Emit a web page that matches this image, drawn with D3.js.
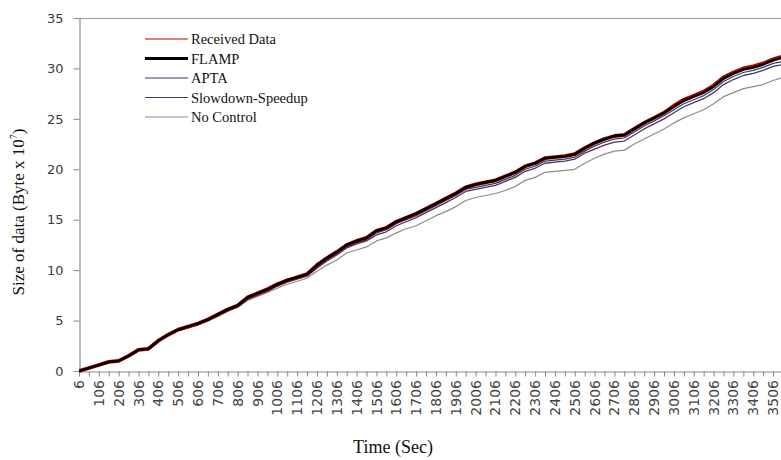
<!DOCTYPE html>
<html><head><meta charset="utf-8">
<script src="https://cdn.jsdelivr.net/npm/d3@7"></script>
<style>body{margin:0;background:#fff}</style>
</head><body><svg id="c" width="781" height="460"></svg>
<script>
// time in seconds (category every 50 s)
const times = d3.range(6, 3557, 50);
const xTickLabels = [6,106,206,306,406,506,606,706,806,906,1006,1106,1206,1306,1406,1506,1606,1706,1806,1906,2006,2106,2206,2306,2406,2506,2606,2706,2806,2906,3006,3106,3206,3306,3406,3506];
const yTicks = [0,5,10,15,20,25,30,35];
const seriesNames = ["Received Data","FLAMP","APTA","Slowdown-Speedup","No Control"];

const receivedData = [0.0,0.3,0.6,0.9,1.0,1.5,2.1,2.2,3.0,3.6,4.1,4.4,4.7,5.1,5.6,6.1,6.5,7.3,7.7,8.1,8.6,9.0,9.3,9.6,10.5,11.2,11.8,12.5,12.9,13.2,13.9,14.2,14.8,15.2,15.6,16.1,16.6,17.1,17.6,18.2,18.5,18.7,18.9,19.3,19.7,20.3,20.6,21.1,21.2,21.3,21.5,22.1,22.6,23.0,23.3,23.4,24.0,24.6,25.1,25.6,26.3,26.9,27.3,27.7,28.3,29.1,29.6,30.0,30.2,30.5,30.9,31.2];
const flamp = [0.0,0.3,0.6,0.9,1.0,1.5,2.1,2.2,3.0,3.6,4.1,4.4,4.7,5.1,5.6,6.1,6.5,7.3,7.7,8.1,8.6,9.0,9.3,9.6,10.5,11.2,11.8,12.5,12.9,13.2,13.9,14.2,14.8,15.2,15.6,16.1,16.6,17.1,17.6,18.2,18.5,18.7,18.9,19.3,19.7,20.3,20.6,21.1,21.2,21.3,21.5,22.1,22.6,23.0,23.3,23.4,24.0,24.6,25.1,25.6,26.2,26.8,27.2,27.6,28.2,29.0,29.5,29.9,30.1,30.4,30.8,31.1];
const apta = [0.0,0.3,0.6,0.9,1.0,1.5,2.1,2.2,3.0,3.6,4.1,4.4,4.6,5.0,5.5,6.0,6.4,7.2,7.6,8.0,8.5,8.9,9.2,9.5,10.3,11.0,11.6,12.3,12.7,13.0,13.7,14.0,14.6,15.0,15.4,15.9,16.4,16.9,17.4,18.0,18.2,18.4,18.6,19.0,19.4,20.0,20.3,20.8,20.9,21.0,21.2,21.8,22.3,22.7,23.0,23.1,23.7,24.3,24.8,25.3,25.9,26.5,26.9,27.3,27.9,28.7,29.2,29.6,29.8,30.1,30.5,30.7];
const slowdownSpeedup = [0.0,0.3,0.6,0.9,1.0,1.5,2.1,2.2,3.0,3.6,4.0,4.3,4.6,5.0,5.5,6.0,6.4,7.1,7.5,7.9,8.4,8.8,9.1,9.4,10.2,10.9,11.5,12.2,12.6,12.9,13.5,13.8,14.4,14.8,15.2,15.7,16.2,16.7,17.2,17.8,18.0,18.2,18.4,18.8,19.2,19.8,20.1,20.6,20.7,20.8,21.0,21.6,22.0,22.4,22.7,22.8,23.4,24.0,24.5,25.0,25.6,26.2,26.6,27.0,27.6,28.4,28.9,29.3,29.5,29.8,30.2,30.4];
const noControl = [0.0,0.3,0.6,0.9,1.0,1.5,2.1,2.2,3.0,3.6,4.0,4.3,4.6,5.0,5.4,5.9,6.3,7.0,7.4,7.8,8.2,8.6,8.9,9.2,9.9,10.5,11.0,11.7,12.0,12.3,12.9,13.2,13.7,14.1,14.4,14.9,15.4,15.8,16.3,16.9,17.2,17.4,17.6,17.9,18.3,18.9,19.2,19.7,19.8,19.9,20.0,20.6,21.1,21.5,21.8,21.9,22.5,23.0,23.5,24.0,24.6,25.1,25.5,25.9,26.5,27.2,27.6,28.0,28.2,28.4,28.8,29.1];

const series = [
  {name: seriesNames[4], values: noControl, color: "#8c8c8c", width: 1.2},
  {name: seriesNames[2], values: apta, color: "#2e3f66", width: 1.2},
  {name: seriesNames[3], values: slowdownSpeedup, color: "#4a3466", width: 1.3},
  {name: seriesNames[0], values: receivedData, color: "#c00000", width: 3.8},
  {name: seriesNames[1], values: flamp, color: "#000000", width: 2.6}
];

const svg = d3.select("#c");
const L = 79, T = 18, B = 371, R = 781;
const x = d3.scaleLinear().domain([6, 3546]).range([L, R]);
const y = d3.scaleLinear().domain([0, 35]).range([B, T]);

svg.append("defs").append("clipPath").attr("id","clip")
  .append("rect").attr("x", L).attr("y", T - 5).attr("width", R - L).attr("height", B - T + 10);

// top border
svg.append("line").attr("x1", L).attr("x2", R).attr("y1", T + 0.5).attr("y2", T + 0.5)
  .attr("stroke", "#9a9a9a").attr("stroke-width", 1.2);

// y axis
const yAxis = d3.axisLeft(y).tickValues(yTicks).tickSize(6).tickSizeOuter(0).tickPadding(10);
const gy = svg.append("g").attr("transform", `translate(${L + 0.5},0)`).call(yAxis);
gy.select(".domain").attr("stroke", "#8a8a8a").attr("stroke-width", 1.2);
gy.selectAll(".tick line").attr("stroke", "#8a8a8a");
gy.selectAll("text").attr("font-family", "DejaVu Sans").attr("font-size", 13).attr("fill", "#3a3a3a");

// x axis
const xAxis = d3.axisBottom(x).tickValues(times).tickSize(5).tickSizeOuter(0).tickFormat("");
const gx = svg.append("g").attr("transform", `translate(0,${B + 0.5})`).call(xAxis);
gx.select(".domain").attr("stroke", "#8a8a8a").attr("stroke-width", 1.2);
gx.selectAll(".tick line").attr("stroke", "#8a8a8a");

svg.append("g").selectAll("text").data(xTickLabels).join("text")
  .attr("transform", d => `translate(${x(d)},${B + 9}) rotate(-90)`)
  .attr("text-anchor", "end").attr("dy", "0.36em")
  .attr("font-family", "DejaVu Sans").attr("font-size", 14).attr("fill", "#444")
  .text(d => d);

// lines
const line = d3.line().x((d, i) => x(times[i])).y(d => y(d));
svg.append("g").attr("clip-path", "url(#clip)").selectAll("path").data(series).join("path")
  .attr("d", s => line(s.values)).attr("fill", "none")
  .attr("stroke", s => s.color).attr("stroke-width", s => s.width)
  .attr("stroke-linejoin", "round");

// legend
const legendItems = [
  {name: seriesNames[0], color: "#c00000", width: 1.2},
  {name: seriesNames[1], color: "#000000", width: 3},
  {name: seriesNames[2], color: "#2e3f66", width: 1.2},
  {name: seriesNames[3], color: "#4a3466", width: 1.2},
  {name: seriesNames[4], color: "#8c8c8c", width: 1.2}
];
const lg = svg.append("g");
legendItems.forEach((d, i) => {
  const yy = 39 + i * 19.5;
  lg.append("line").attr("x1", 145).attr("x2", 188).attr("y1", yy).attr("y2", yy)
    .attr("stroke", d.color).attr("stroke-width", d.width);
  lg.append("text").attr("x", 191).attr("y", yy + 5)
    .attr("font-family", "Liberation Serif").attr("font-size", 14.5).attr("fill", "#111")
    .text(d.name);
});

// axis titles
svg.append("text").attr("x", 393).attr("y", 453).attr("text-anchor", "middle")
  .attr("font-family", "Liberation Serif").attr("font-size", 18).attr("fill", "#111")
  .text("Time (Sec)");
const yt = svg.append("text").attr("transform", "translate(24,212) rotate(-90)")
  .attr("text-anchor", "middle").attr("font-family", "Liberation Serif").attr("font-size", 17).attr("fill", "#111");
yt.append("tspan").text("Size  of  data (Byte x 10");
yt.append("tspan").attr("font-size", 10).attr("dy", -7).text("7");
yt.append("tspan").attr("dy", 7).text(")");
</script></body></html>
